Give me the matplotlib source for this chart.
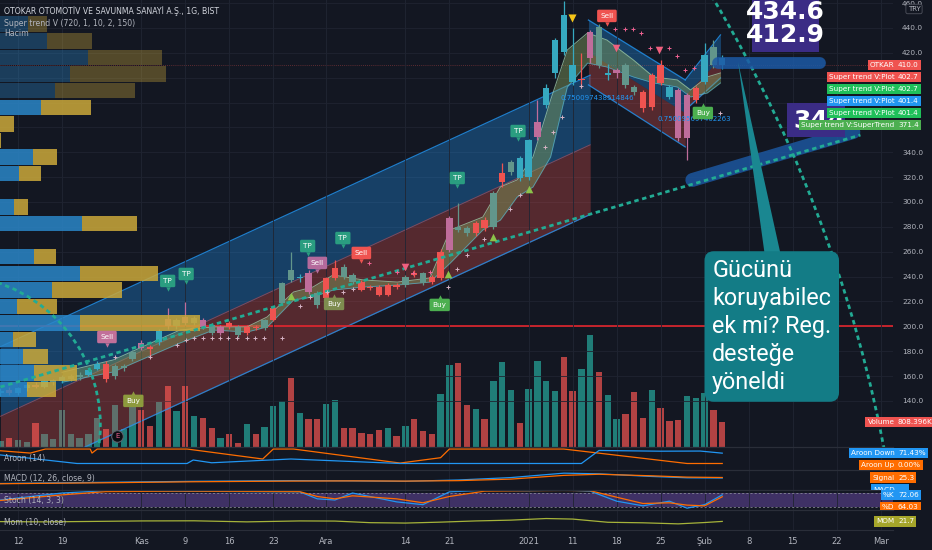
import numpy as np
import matplotlib
matplotlib.use("Agg")
import matplotlib.pyplot as plt
from matplotlib.patches import Ellipse, Polygon, Rectangle
from matplotlib.transforms import Bbox, TransformedBbox

# ---------------- data (bar index k = trading day, prices in TRY) ----------------
opens = [146, 149, 146, 150, 153, 151, 155, 156, 158, 159, 161, 166, 169.5, 160, 166.5, 174,
         186.6, 183, 187, 206, 200, 207.5, 202.7, 205, 201, 195, 202.7, 199.5, 194.6, 199.5,
         198.6, 205, 218.8, 245.3, 239, 243, 226.8, 222.8, 238.9, 247.7, 241.3, 235.6, 231.6,
         231.6, 225.2, 233.2, 233.2, 242.9, 242.9, 239.7, 238.9, 261.4, 279.9, 279.1, 275.1,
         285.5, 279.9, 316.1, 324.2, 335.4, 320.1, 352.3, 378.1, 403.8, 450.5, 410.2, 398,
         415.9, 440.8, 402.2, 404, 410.2, 392.5, 388.5, 376.4, 410.2, 392.5, 390, 351.5, 382.1,
         396.6, 424.7, 416]
highs = [150, 151, 151, 154, 155, 157, 158, 161, 162, 163, 166, 172, 172, 170, 170, 181,
         189, 185, 198, 214.7, 207, 219.6, 208, 207, 203, 201, 204, 201, 201, 201,
         206, 216, 236, 259.8, 242, 245, 228, 240, 253.4, 250, 243, 237, 233,
         233, 235, 235, 241, 245, 244, 241, 262, 289, 299.2, 281, 285,
         288, 309, 331.4, 334, 337, 351, 382.1, 395, 432, 462, 440, 420,
         438, 443, 411, 408, 412, 394, 390, 404, 414, 394, 392, 388, 393,
         428, 430, 418]
lows = [144, 145, 145, 148, 150, 150, 153, 154, 156, 157, 160, 165, 155, 158, 164, 172,
        181, 174.5, 185, 198, 198, 201, 201, 198, 193, 193, 198, 191, 193, 197,
        197, 204, 217, 236, 236, 226, 215, 221, 237, 238, 234, 228, 229,
        224, 224, 230, 232, 240, 233, 234, 237, 260, 276, 273, 273,
        277, 278, 312, 322, 317, 318, 350, 376, 400, 418, 394, 392,
        412, 408, 398, 400, 392, 386, 372, 374, 394, 383, 349, 333.8, 380,
        395, 408, 407]
closes = [148, 146.5, 150, 153, 151.5, 156, 157, 159, 160, 161, 165, 170, 157.5, 168, 168, 179,
          182.6, 182, 196, 200, 205, 202.7, 206.7, 199.5, 194.6, 199.5, 199.5, 193, 199.5, 198.6,
          205, 214.7, 234.8, 237.3, 240, 227.6, 217.2, 238.9, 246.9, 239.7, 235.6, 229.2, 230.8,
          225.2, 233.2, 231.6, 239.7, 241.3, 234.8, 235.6, 259.8, 287.1, 277.5, 275.1, 283.1,
          279.1, 307.3, 323.3, 332.2, 319.3, 349.9, 364.4, 391.7, 430.3, 420.7, 396.6, 399,
          436.8, 410.2, 404, 406, 394.1, 388.5, 375.6, 402.2, 395.8, 384.5, 351.5, 386.1, 391.7,
          418.3, 410.2, 410.0]
# Super trend bar colouring: U strong up, u up, d down, D strong down
bar_state = list("UDUUdUuUuuUUDuuudDUdudududDuDDuDuuUduDDuuDDDDDuDuDDduuDDuDuUUdUUUUDduUduuDDDUddDUuUdD")
volumes_k = [194, 291, 226, 162, 776, 420, 258, 1195, 420, 291, 420, 937, 581, 1357, 581, 1357,
             1195, 678, 1454, 1970, 1163, 1970, 1001, 937, 614, 291, 420, 129, 743, 420, 646,
             1324, 1486, 2229, 1098, 904, 904, 1389, 1518, 614, 614, 452, 420, 549, 614, 355,
             678, 904, 517, 420, 1712, 2649, 2713, 1357, 1227, 904, 2132, 2746, 1841, 775, 1873,
             2778, 2132, 1809, 2907, 1809, 2519, 3618, 2423, 1680, 904, 1066, 1777, 937, 1841,
             1260, 840, 872, 1647, 1583, 1744, 1195, 808.396]

date_k = [2, 7, 16, 21, 26, 31, 37, 46, 51, 60, 65, 70, 75, 80, 85, 90, 95, 100]
date_labels = ["12", "19", "Kas", "9", "16", "23", "Ara", "14", "21", "2021", "11", "18", "25",
               "Şub", "8", "15", "22", "Mar"]
# 360 / 380 / 400 sit behind the price tags, as in the screenshot
price_ticks = [140, 160, 180, 200, 220, 240, 260, 280, 300, 320, 340, 420, 440, 460]
grid_prices = [140, 160, 180, 200, 220, 240, 260, 280, 300, 320, 340, 360, 380, 400, 420, 440, 460]

# volume profile rows (top to bottom), up volume (blue) / down volume (yellow), relative units
profile_top = 449.7
profile_row = 13.36
profile_up = [28, 47, 88, 70, 55, 41, 0, 0, 33, 19, 0, 14, 82, 0, 34, 80, 52, 17, 80, 13, 23, 34, 27]
profile_down = [19, 45, 74, 96, 80, 50, 14, 1, 24, 22, 0, 14, 55, 0, 22, 78, 70, 40, 120, 23, 25, 43, 29]
profile_value_area = [False] * 5 + [True] * 18

# super trend cloud
band_k = [7, 12.8, 20.4, 24.2, 28.0, 30.3, 33.3, 35.5, 37.8, 41.2, 45.1, 48.8, 51.1, 54.8, 56.8,
          58.7, 60.5, 62.5, 64.4, 66.7, 68.9, 71.9, 74.2, 76.9, 78.4, 80.3, 81.8]
band_hi = [163, 172.9, 197.0, 199.5, 199.5, 207.5, 227.6, 231.6, 241.3, 237.3, 235.6, 238.9, 277.5,
           287.9, 312.1, 317.7, 336.2, 382.1, 422.3, 436.0, 430.3, 414.3, 400.6, 398.2, 390.1,
           400.6, 403.8]
band_lo = [155, 163.3, 186.6, 197.0, 195.4, 199.5, 221.2, 223.6, 229.2, 231.6, 233.2, 235.6, 250.9,
           277.5, 285.5, 304.0, 312.1, 336.2, 392.5, 411.8, 408.6, 400.6, 395.8, 392.5, 384.5,
           387.7, 395.8]

# regression channels: [start, end] bar and upper / middle / lower prices
chan_big_k = [0, 67]
chan_big_up = [183.6, 402]
chan_big_mid = [127.6, 346]
chan_big_lo = [71.6, 290]
chan_dn_k = [66.8, 77.8]
chan_dn_up = [446.4, 398.2]
chan_dn_mid = [420.7, 371.6]
chan_dn_lo = [394.2, 344.3]
chan_up_k = [77.8, 81.8]
chan_up_up = [398.2, 434.4]
chan_up_mid = [386.1, 415.9]
chan_up_lo = [374.0, 399.8]

trend_line_k = [0, 97.7]
trend_line_price = [151.2, 353.9]

# signals
tp_k = [19.0, 21.1, 34.9, 38.9, 51.9, 58.8]
tp_price = [236.5, 242.1, 264.6, 271.0, 319.3, 357.1]
sell_k = [12.1, 36.0, 41.0, 68.9]
sell_price = [191.4, 251.0, 259.0, 449.7]
buy_k = [15.1, 37.9, 49.9, 79.8]
buy_price = [140.0, 218.0, 217.2, 371.6]
tri_up_k = [33.0, 50.9, 56.0, 60.0]
tri_up_price = [224.4, 242.1, 271.9, 310.5]
tri_dn_k = [46.0, 69.9, 74.8]
tri_dn_price = [247.7, 424.0, 422.3]
tri_top_k = [64.9]
tri_top_price = [448.0]
sup_k = [13.0, 17.0, 20.1, 21.1, 22.0, 23.0, 24.0, 24.9, 25.9, 26.9, 28.0, 28.9, 29.9, 32.0, 34.0,
         35.2, 37.1, 38.9, 40.0, 50.9, 51.9, 53.0, 54.9, 57.9, 59.0, 61.9, 62.8, 63.8, 65.9, 81.8]
sup_price = [175.3, 175.3, 185.0, 189.0, 190.4, 190.4, 190.4, 190.4, 190.4, 190.4, 190.4, 190.4,
             190.4, 190.4, 216.4, 223.6, 227.6, 227.6, 229.9, 231.6, 246.0, 257.4, 270.3, 294.4,
             305.6, 344.3, 356.3, 368.4, 393.3, 371.6]
res_k = [41.9, 45.0, 46.9, 48.8, 69.8, 70.9, 71.9, 72.8, 73.8, 75.9, 76.9, 77.8, 78.8]
res_price = [251.0, 243.7, 242.9, 243.7, 439.2, 439.2, 439.2, 436.0, 424.0, 424.0, 417.5, 406.2, 407.8]

# indicators
aroon_up_k = [0, 3.4, 5.1, 10.2, 10.4, 11, 21.2, 29.8, 31, 33.3, 45.4, 50, 51, 64, 71, 78, 82]
aroon_up = [88, 72, 100, 100, 72, 100, 100, 31, 100, 100, 3, 40, 100, 100, 50, 0, 0]
aroon_dn_k = [0, 8.7, 21.2, 21.9, 24, 33, 45.4, 60, 66, 68, 75, 79.5, 82]
aroon_dn = [59, 0, 0, 24, 5, 31, 0, 0, 0, 90, 85, 86, 71.43]
macd_k = [0, 11, 22, 33, 40, 46, 52, 58, 64, 68, 74, 78, 82]
macd_line = [-2, 3, 8, 11, 10, 8, 14, 25, 45, 42, 30, 24, 23]
signal_line = [-3, 1, 6, 9, 10, 9, 11, 18, 35, 40, 33, 27, 25.3]
stoch_x = [0, 7, 12, 20, 28, 34, 36, 38, 40, 45, 48, 51, 55, 60, 64, 67, 70, 73, 76, 78, 80, 82]
stoch_k = [50, 80, 90, 88, 86, 85, 55, 50, 80, 42, 30, 85, 92, 90, 93, 88, 45, 25, 45, 15, 30, 72.06]
stoch_d = [48, 72, 86, 88, 87, 86, 65, 55, 68, 55, 38, 65, 88, 90, 91, 90, 62, 35, 38, 28, 25, 64.03]
mom_x = [0, 5, 10, 16, 22, 28, 34, 38, 42, 46, 50, 54, 58, 62, 65, 69, 73, 77, 80, 82]
mom = [15, 5, 20, 40, 45, 5, 40, 35, -25, -40, -5, 40, 70, 130, 110, -10, -30, -70, -20, 21.7]

# ---------------- styling ----------------
W, H = 932, 550
BG = "#131722"
TXT = "#b2b5be"
NARROW = ["Liberation Sans Narrow", "DejaVu Sans"]
TEAL = "#26a69a"
RED = "#ef5350"
BLUE = "#2196f3"
ORANGE = "#ff6d00"
DASH_TEAL = "#22ab94"
GRID = "#1f2431"
state_colors = {"U": "#36a9c0", "u": "#62968b", "d": "#bf6d9b", "D": "#ef5350"}
XLIM = (-0.05, 101.4)

fig = plt.figure(figsize=(W / 100, H / 100), dpi=100, facecolor=BG)


def panel(top, bottom, face=BG):
    a = fig.add_axes([0, 1 - bottom / H, 893 / W, (bottom - top) / H], facecolor=face)
    a.set_xlim(*XLIM)
    for s in a.spines.values():
        s.set_visible(False)
    a.set_yticks([])
    a.set_xticks(date_k)
    a.tick_params(axis="x", length=0, labelbottom=False)
    a.grid(True, axis="x", color=GRID, lw=0.6)
    return a


volAx = panel(0, 447)
ax = panel(0, 447, face="none")
aroonAx = panel(447, 470)
macdAx = panel(470, 490)
stochAx = panel(490, 510)
momAx = panel(510, 530)
for a in (aroonAx, macdAx, stochAx, momAx):
    a.spines["top"].set_visible(True)
    a.spines["top"].set_color("#2a2e39")
    a.spines["top"].set_linewidth(0.9)
momAx.spines["bottom"].set_visible(True)
momAx.spines["bottom"].set_color("#2a2e39")

k = np.arange(len(closes))
o = np.array(opens)
c = np.array(closes)

# volume
volAx.set_ylim(0, 14456)
volAx.bar(k, volumes_k, width=0.72, color=[TEAL if cc >= oo else RED for oo, cc in zip(o, c)],
          alpha=0.72, lw=0)

# main price pane
ax.set_ylim(102.9, 462.5)
ax.yaxis.tick_right()
ax.set_yticks(price_ticks)
ax.set_yticklabels([f"{v:.1f}" for v in price_ticks])
ax.tick_params(axis="y", length=0, pad=6.5, labelsize=5.3, labelcolor=TXT)
for lbl in ax.get_yticklabels():
    lbl.set_family(NARROW)
for gp in grid_prices:
    ax.axhline(gp, color=GRID, lw=0.6, zorder=0.5)

# big regression channel
ax.fill_between(chan_big_k, chan_big_mid, chan_big_up, color=BLUE, alpha=0.33, lw=0, zorder=1)
ax.fill_between(chan_big_k, chan_big_lo, chan_big_mid, color=RED, alpha=0.30, lw=0, zorder=1)
ax.plot(chan_big_k, chan_big_up, color=BLUE, lw=0.9, alpha=0.8, zorder=1.2)
ax.plot(chan_big_k, chan_big_lo, color=BLUE, lw=0.9, alpha=0.8, zorder=1.2)
ax.plot(chan_big_k, chan_big_mid, color=RED, lw=0.7, alpha=0.5, zorder=1.2)
for ck, cu, cm, cl in ((chan_dn_k, chan_dn_up, chan_dn_mid, chan_dn_lo),
                       (chan_up_k, chan_up_up, chan_up_mid, chan_up_lo)):
    ax.fill_between(ck, cm, cu, color=BLUE, alpha=0.33, lw=0, zorder=1)
    ax.fill_between(ck, cl, cm, color=RED, alpha=0.30, lw=0, zorder=1)
    ax.plot(ck, cu, color=BLUE, lw=0.9, alpha=0.8, zorder=1.2)
    ax.plot(ck, cl, color=BLUE, lw=0.9, alpha=0.8, zorder=1.2)

ax.axhline(200, color="#e3262e", lw=1.2, zorder=1.5)
ax.axhline(closes[-1], color=RED, lw=0.6, alpha=0.45, ls=(0, (1, 1.5)), zorder=1.5)

# super trend cloud
ax.fill_between(band_k, band_lo, band_hi, color="#83a05c", alpha=0.45, lw=0, zorder=2)
ax.plot(band_k, band_hi, color="#9cc9a4", lw=0.7, alpha=0.8, zorder=2.1)
ax.plot(band_k, band_lo, color="#4fc3f7", lw=0.6, alpha=0.6, zorder=2.1)

# candles
cols = [state_colors[s] for s in bar_state]
ax.vlines(k, lows, highs, colors=cols, lw=0.9, zorder=3)
ax.bar(k, np.maximum(np.abs(c - o), 0.9), bottom=np.minimum(o, c), width=0.72, color=cols,
       lw=0, zorder=3.1)

# volume profile (anchored to the left edge)
centers = profile_top - profile_row * (np.arange(len(profile_up)) + 0.5)
up_w = np.array(profile_up) / 8.8
dn_w = np.array(profile_down) / 8.8
for yc, uw, dw, va in zip(centers, up_w, dn_w, profile_value_area):
    al = 0.85 if va else 0.35
    ax.barh(yc, uw, left=XLIM[0], height=profile_row * 0.93, color="#2a86c8", alpha=al, lw=0, zorder=4)
    ax.barh(yc, dw, left=XLIM[0] + uw, height=profile_row * 0.93, color="#cba93a", alpha=al, lw=0,
            zorder=4)

# drawings: dashed trend line and circles
dash = (0, (1.6, 1.3))
ax.plot(trend_line_k, trend_line_price, color=DASH_TEAL, lw=2.0, ls=dash, zorder=5)
ax.add_patch(Ellipse((-5.7, 120.6), 34.1, 241.4, fill=False, ec=DASH_TEAL, lw=2.0, ls=dash, zorder=5))
ax.add_patch(Ellipse((-55.0, -108.7), 316.4, 2239.7, fill=False, ec=DASH_TEAL, lw=2.0, ls=dash,
                     zorder=5))

# markers
ax.scatter(sup_k, sup_price, marker="+", s=9, color="#d6b3c4", lw=0.7, zorder=5)
ax.scatter(res_k, res_price, marker="+", s=9, color="#f06292", lw=0.7, zorder=5)
ax.scatter(tri_up_k, tri_up_price, marker="^", s=30, color="#8bc34a", lw=0, zorder=5)
ax.scatter(tri_dn_k, tri_dn_price, marker="v", s=30, color="#f0607f", lw=0, zorder=5)
ax.scatter(tri_top_k, tri_top_price, marker="v", s=34, color="#f5c518", lw=0, zorder=5)


def signal(kx, py, text, color, down=True):
    ax.text(kx, py, text, ha="center", va="center", fontsize=5.2, color="white", family=NARROW,
            bbox=dict(boxstyle="round,pad=0.45,rounding_size=0.2", fc=color, ec="none"), zorder=6)
    ax.scatter([kx], [py - 6.2 if down else py + 6.2], marker="v" if down else "^", s=10, color=color,
               lw=0, zorder=6)


for kx, py in zip(tp_k, tp_price):
    signal(kx, py, "TP", "#2a9d80")
for kx, py, cl in zip(sell_k, sell_price, ["#c2709a", "#b46a9c", RED, RED]):
    signal(kx, py, "Sell", cl)
for kx, py, cl in zip(buy_k, buy_price, ["#8d9a3d", "#7e8c4f", "#4caf50", "#4caf50"]):
    signal(kx, py, "Buy", cl, down=False)

ax.scatter([13.25], [111.8], s=70, color="#0b0d12", edgecolors="#5d606b", lw=0.8, zorder=6)
ax.text(13.25, 111.8, "E", ha="center", va="center", fontsize=5, color="#f06292", zorder=6.5)

ax.text(63.6, 383.7, "0.750097438514846", fontsize=5, color=BLUE, va="center", family=NARROW, zorder=5)
ax.text(74.6, 367.0, "0.750095697402263", fontsize=5, color=BLUE, va="center", family=NARROW, zorder=5)

# blue highlight strokes
ax.plot([81.5, 93.1], [411.8, 411.8], color="#1c5aa6", lw=8.5, alpha=0.85, solid_capstyle="round",
        zorder=5.5)
ax.plot([78.6, 96.9], [317.7, 356.3], color="#1c5aa6", lw=10, alpha=0.8, solid_capstyle="round",
        zorder=4.5)

# purple price notes
ax.add_patch(Rectangle((85.4, 420.7), 7.6, 60, fc="#3b2c85", ec="none", zorder=7, clip_on=False))
ax.text(89.2, 452.9, "434.6", ha="center", va="center", fontsize=18, weight="bold", color="white",
        family=NARROW, zorder=7.5)
ax.text(89.2, 434.4, "412.9", ha="center", va="center", fontsize=18, weight="bold", color="white",
        family=NARROW, zorder=7.5)
ax.add_patch(Rectangle((89.4, 352.3), 6.6, 27.4, fc="#3b2c85", ec="none", zorder=7, clip_on=False))
ax.text(90.1, 365.2, "344", ha="left", va="center", fontsize=18, weight="bold", color="white",
        family=NARROW, zorder=7.5)

# callout
ax.add_patch(Polygon([(83.8, 412.6), (86.8, 259), (88.6, 259)], closed=True, fc="#1a8791", ec="none",
                     zorder=7))
ax.text(80.86, 254.2, "Gücünü\nkoruyabilec\nek mi? Reg.\ndesteğe\nyöneldi", ha="left", va="top",
        fontsize=16.8, family=["Roboto", "DejaVu Sans"], color="white", linespacing=1.28,
        bbox=dict(boxstyle="round,pad=0.33,rounding_size=0.4", fc="#137c86", ec="none"), zorder=8)

# indicator panes
aroonAx.set_ylim(-45, 114)
aroonAx.plot(aroon_up_k, aroon_up, color=ORANGE, lw=0.9)
aroonAx.plot(aroon_dn_k, aroon_dn, color=BLUE, lw=0.9)
macdAx.set_ylim(-31.5, 59.4)
macdAx.plot(macd_k, macd_line, color=BLUE, lw=0.9)
macdAx.plot(macd_k, signal_line, color=ORANGE, lw=0.9)
stochAx.set_ylim(7.1, 92.9)
stochAx.axhspan(20, 80, color="#7e57c2", alpha=0.42, lw=0)
stochAx.axhline(80, color="#9598a1", lw=0.5, ls=(0, (3, 3)))
stochAx.axhline(20, color="#9598a1", lw=0.5, ls=(0, (3, 3)))
stochAx.plot(stoch_x, stoch_k, color=BLUE, lw=0.9)
stochAx.plot(stoch_x, stoch_d, color=ORANGE, lw=0.9)
momAx.set_ylim(-300, 450)
momAx.plot(mom_x, mom, color="#a6b33a", lw=0.9)

momAx.tick_params(axis="x", labelbottom=True, pad=5.0, labelsize=6, labelcolor=TXT)
momAx.set_xticklabels(date_labels)

# ---------------- header texts and scale labels ----------------
def ftext(x, y, s, **kw):
    return fig.text(x / W, 1 - y / H, s, **kw)


ftext(4, 11, "OTOKAR OTOMOTİV VE SAVUNMA SANAYİ A.Ş., 1G, BIST", fontsize=5.6, color="#d1d4dc",
      va="center", family=NARROW)
ftext(4, 23, "Super trend V (720, 1, 10, 2, 150)", fontsize=5.6, color=TXT, va="center", family=NARROW)
ftext(4, 33, "Hacim", fontsize=5.6, color=TXT, va="center", family=NARROW)
for y, s in ((458, "Aroon (14)"), (479, "MACD (12, 26, close, 9)"), (500, "Stoch (14, 3, 3)"),
             (522, "Mom (10, close)")):
    ftext(4, y, s, fontsize=5.6, color=TXT, va="center", family=NARROW)

ftext(914, 9, "TRY", fontsize=5, color=TXT, va="center", ha="center", family=NARROW, zorder=6,
      bbox=dict(boxstyle="round,pad=0.25", fc=BG, ec="#50535e", lw=0.6))


def ypix(a, v):
    return H - a.transData.transform((0, v))[1]


def tag(y, name, value, color, clip=None, tcol="white"):
    kw = dict(fontsize=5.2, color=tcol, va="center", family=NARROW, zorder=6)
    t1 = ftext(894.5, y, name, ha="right", bbox=dict(boxstyle="square,pad=0.3", fc=color, ec="none"), **kw)
    t2 = ftext(898, y, value, ha="left", bbox=dict(boxstyle="square,pad=0.3", fc=color, ec="none"), **kw)
    if clip is not None:
        box = TransformedBbox(Bbox([[0, 1 - clip[1] / H], [1, 1 - clip[0] / H]]), fig.transFigure)
        for t in (t1, t2):
            t.set_clip_box(box)
            t.set_clip_on(True)


# main pane tags, pushed apart like the platform does
main_tags = [("OTKAR", 410.0, RED), ("Super trend V:Plot", 402.7, RED),
             ("Super trend V:Plot", 402.7, "#1fc05a"), ("Super trend V:Plot", 401.4, BLUE),
             ("Super trend V:Plot", 401.4, "#1fc05a"), ("Super trend V:SuperTrend", 371.4, "#4caf50")]
prev = -100
for name, val, col in main_tags:
    y = max(ypix(ax, val), prev + 12)
    tag(y, name, f"{val:.1f}", col)
    prev = y

tag(ypix(volAx, volumes_k[-1]), "Volume", "808.396K", RED)
y1 = ypix(aroonAx, aroon_dn[-1])
tag(y1, "Aroon Down", "71.43%", BLUE, clip=(447, 470))
tag(max(ypix(aroonAx, aroon_up[-1]), y1 + 12), "Aroon Up", "0.00%", ORANGE, clip=(447, 470))
y2 = ypix(macdAx, signal_line[-1])
tag(y2, "Signal", "25.3", ORANGE, clip=(470, 490))
tag(y2 + 12, "MACD", "    ", BLUE, clip=(470, 490))
y3 = ypix(stochAx, stoch_k[-1])
tag(y3, "%K", "72.06", BLUE, clip=(490, 510))
tag(max(ypix(stochAx, stoch_d[-1]), y3 + 12), "%D", "64.03", ORANGE, clip=(490, 510))
tag(ypix(momAx, mom[-1]), "MOM", "21.7", "#a5a52a")

fig.savefig("out.png", dpi=100, facecolor=BG)
